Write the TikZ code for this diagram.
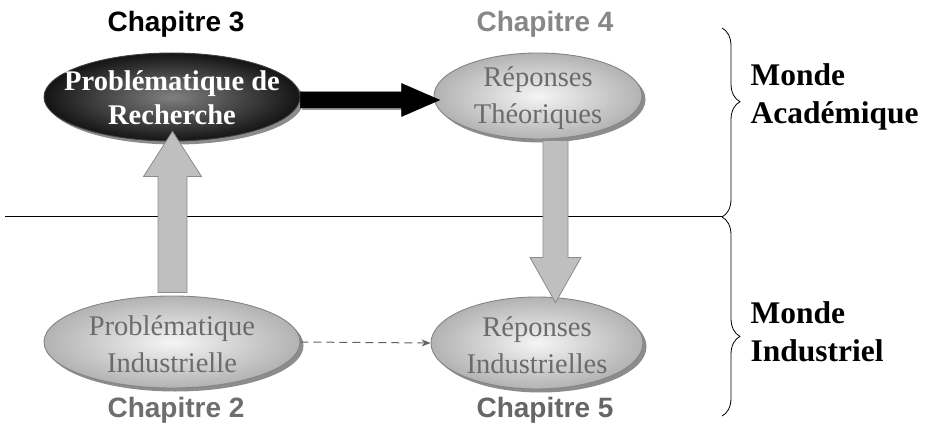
\documentclass[tikz,border=0pt]{standalone}
\usepackage{fontspec}
\setmainfont{Liberation Serif}
\newfontfamily\chapfont{Liberation Sans}
\usetikzlibrary{shapes.geometric,shadows,decorations.pathreplacing,calc,arrows.meta}
\begin{document}
\begin{tikzpicture}[x=1pt,y=-1pt,
  ell/.style={ellipse, draw=black!48, line width=0.9pt, inner sep=0pt,
    drop shadow={shadow xshift=3.5pt, shadow yshift=-3.5pt, fill=black!45, opacity=1}},
  grayell/.style={ell, inner color=black!4, outer color=black!30},
  darkell/.style={ell, draw=black!75, inner color=black!50, outer color=black!92},
  txtgray/.style={font=\fontsize{28.5}{37}\selectfont, text=black!58, align=center},
  txtdark/.style={font=\bfseries\fontsize{28.5}{34}\selectfont, text=white, align=center},
  chap/.style={font=\chapfont\bfseries\fontsize{28}{32}\selectfont},
  monde/.style={font=\bfseries\fontsize{31.5}{38}\selectfont, align=left, anchor=west},
  fatgray/.style={fill=black!25, draw=black!45, line width=0.8pt, line join=miter},
  fatblack/.style={fill=black, draw=black, line width=0.5pt},
  thinline/.style={draw=black, line width=1pt},
  bracestyle/.style={draw=black, line width=0.8pt, decorate},
  dasharrow/.style={draw=black!62, line width=1pt, dash pattern=on 8pt off 5pt,
    -{Stealth[length=9pt,width=7pt]}}
]
\useasboundingbox (0,0) rectangle (925,430);

% divider line and braces
\coordinate (bt) at (722,28);
\coordinate (bm) at (722,217);
\coordinate (bb) at (722,416);
\coordinate (lineStart) at (5,217);
\draw[thinline] (lineStart) -- (bm);
\draw[bracestyle, decoration={brace, amplitude=18pt, aspect=0.39}] (bt) -- (bm);
\draw[bracestyle, decoration={brace, amplitude=18pt, aspect=0.6}] (bm) -- (bb);

% ellipses
\node[darkell, minimum width=256pt, minimum height=88pt] (A) at (172,97) {};
\node[grayell, minimum width=208pt, minimum height=86pt] (B) at (538,96) {};
\node[grayell, minimum width=256pt, minimum height=92pt] (C) at (172,342) {};
\node[grayell, minimum width=212pt, minimum height=92pt] (D) at (537,343) {};

% black arrow A -> B
\coordinate (h1) at ($(A.east)+(0,3)$);
\coordinate (h2) at ($(B.west)+(6,4)$);
\fill[black!40] ($(h1)+(2,8)$) rectangle ($(h2)+(-38,10)$);
\path[fatblack] ($(h1)+(0,-8)$) -- ($(h2)+(-38,-8)$) -- ($(h2)+(-38,-16.5)$) -- (h2)
  -- ($(h2)+(-38,16.5)$) -- ($(h2)+(-38,8)$) -- ($(h1)+(0,8)$) -- cycle;

% gray up arrow C -> A
\coordinate (u1) at ($(C.north)+(0.5,-3)$);
\coordinate (u2) at ($(A.south)+(0.5,-10)$);
\path[fatgray] ($(u1)+(-14.5,0)$) -- ($(u2)+(-14.5,45)$) -- ($(u2)+(-29,45)$) -- (u2)
  -- ($(u2)+(29,45)$) -- ($(u2)+(14.5,45)$) -- ($(u1)+(14.5,0)$) -- cycle;

% gray down arrow B -> D
\coordinate (d1) at ($(B.south)+(17.5,1)$);
\coordinate (d2) at ($(D.north)+(18.5,6)$);
\path[fatgray] ($(d1)+(-12.5,0)$) -- ($(d2)+(-12.5,-45)$) -- ($(d2)+(-25.5,-45)$) -- (d2)
  -- ($(d2)+(25.5,-45)$) -- ($(d2)+(12.5,-45)$) -- ($(d1)+(12.5,0)$) -- cycle;

% dashed arrow C -> D
\draw[dasharrow] (C.east) -- (D.west);

% texts in ellipses
\node[txtdark] (At) at ($(A)+(0,1)$) {Problématique de\\Recherche};
\node[txtgray] (Bt) at ($(B)+(0,2)$) {Réponses\\Théoriques};
\node[txtgray] (Ct) at ($(C)+(0,2)$) {Problématique\\Industrielle};
\node[txtgray] (Dt) at ($(D)+(0,2)$) {Réponses\\Industrielles};

% chapter labels
\node[chap, text=black] (ch3) at (176,24) {Chapitre 3};
\node[chap, text=black!47] (ch4) at (545,24) {Chapitre 4};
\node[chap, text=black!57] (ch2) at (176,410) {Chapitre 2};
\node[chap, text=black!60] (ch5) at (545,410) {Chapitre 5};

% world labels
\node[monde] (ma) at (747,97) {Monde\\Académique};
\node[monde] (mi) at (747,332) {Monde\\Industriel};
\end{tikzpicture}
\end{document}
